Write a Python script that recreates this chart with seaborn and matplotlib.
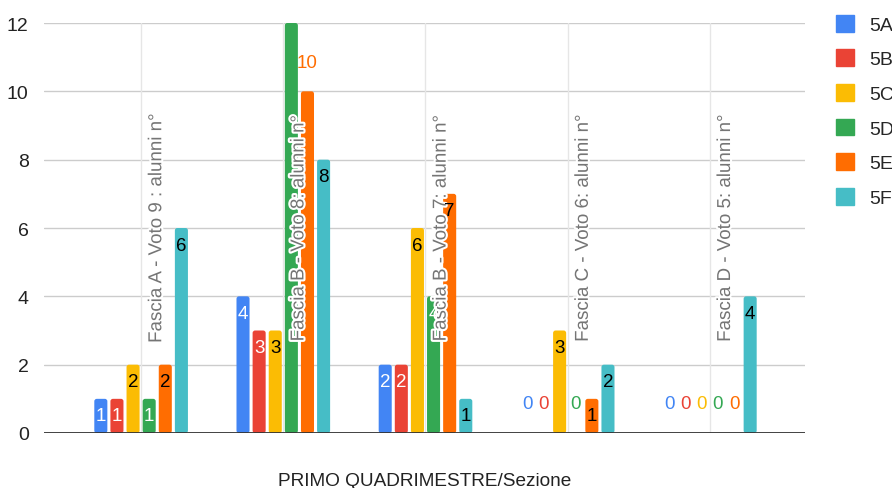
import matplotlib
matplotlib.use("Agg")
import matplotlib.pyplot as plt
import matplotlib.patheffects as pe
from matplotlib.patches import Patch, FancyBboxPatch
import seaborn as sns
import pandas as pd

# data
fasce = [
    "Fascia A - Voto 9 : alunni n°",
    "Fascia B - Voto 8: alunni n°",
    "Fascia B - Voto 7: alunni n°",
    "Fascia C - Voto 6: alunni n°",
    "Fascia D - Voto 5: alunni n°",
]
sezioni = ["5A", "5B", "5C", "5D", "5E", "5F"]
v_5a = [1, 4, 2, 0, 0]
v_5b = [1, 3, 2, 0, 0]
v_5c = [2, 3, 6, 3, 0]
v_5d = [1, 12, 4, 0, 0]
v_5e = [2, 10, 7, 1, 0]
v_5f = [6, 8, 1, 2, 4]
yticks = [0, 2, 4, 6, 8, 10, 12]

colors = ["#4285F4", "#EA4335", "#FBBC04", "#34A853", "#FF6D01", "#46BDC6"]
inside_text = ["white", "white", "black", "white", "black", "black"]

rows = []
for sez, vals in zip(sezioni, [v_5a, v_5b, v_5c, v_5d, v_5e, v_5f]):
    for f, v in zip(fasce, vals):
        rows.append({"fascia": f, "sezione": sez, "alunni": v})
df = pd.DataFrame(rows)

sns.set_theme(style="white")
plt.rcParams["font.family"] = ["Liberation Sans", "DejaVu Sans"]

fig = plt.figure(figsize=(8.92, 4.89), dpi=100)
ax = fig.add_axes([44 / 892, 55 / 489, 761 / 892, 410 / 489])

sns.barplot(data=df, x="fascia", y="alunni", hue="sezione", order=fasce,
            hue_order=sezioni, palette=colors, width=0.68, gap=0.19,
            saturation=1, legend=False, ax=ax, zorder=3)

ax.set_xlim(-0.683, 4.669)
ax.set_ylim(0, 12)
ax.set_yticks(yticks)
ax.set_yticklabels([str(t) for t in yticks], fontsize=14, color="#222222")
ax.tick_params(axis="y", length=0, pad=11)
ax.set_xticks([])
ax.set_xlabel("PRIMO QUADRIMESTRE/Sezione", fontsize=13.7, color="#222222", labelpad=28)
ax.set_ylabel("")
for s in ax.spines.values():
    s.set_visible(False)

for t in yticks[1:]:
    ax.axhline(t, color="#cccccc", lw=1, zorder=1)
for i in range(len(fasce)):
    ax.axvline(i, color="#e6e6e6", lw=1, zorder=1)
ax.axhline(0, color="#333333", lw=1.3, zorder=4)

# slightly rounded bar corners, like the reference
px_x = (4.669 + 0.683) / 761
px_y = 12 / 410
for cont in ax.containers:
    for p in cont.patches:
        if p.get_height() <= 0:
            continue
        p.set_visible(False)
        ax.add_patch(FancyBboxPatch(
            (p.get_x(), p.get_y()), p.get_width(), p.get_height(),
            boxstyle=f"round,pad=0,rounding_size={2.5 * px_x}",
            mutation_aspect=px_y / px_x,
            facecolor=p.get_facecolor(), edgecolor="none", zorder=3))

# value labels
for k, cont in enumerate(ax.containers):
    for p in cont.patches:
        h = p.get_height()
        xc = p.get_x() + p.get_width() / 2
        if h == 0 or h >= 10:
            ax.text(xc, h + 0.85, f"{int(h)}", ha="center", va="center",
                    fontsize=13.5, color=colors[k], zorder=6, clip_on=False)
        else:
            ax.text(xc, h - 0.5, f"{int(h)}", ha="center", va="center",
                    fontsize=13.5, color=inside_text[k], zorder=6)

# category labels, rotated inside the plot
for i, f in enumerate(fasce):
    ax.text(i + 0.11, 6, f, rotation=90, ha="center", va="center",
            fontsize=13.5, color="#757575", zorder=5,
            path_effects=[pe.withStroke(linewidth=3, foreground="white")])

handles = [Patch(facecolor=c, edgecolor=c) for c in colors]
fig.legend(handles, sezioni, loc="upper left", bbox_to_anchor=(828 / 892, 1 - 8 / 489),
           frameon=False, fontsize=14, handlelength=0.95, handleheight=0.95,
           handletextpad=0.75, labelspacing=0.8, borderaxespad=0)

fig.savefig("out.png", dpi=100)
